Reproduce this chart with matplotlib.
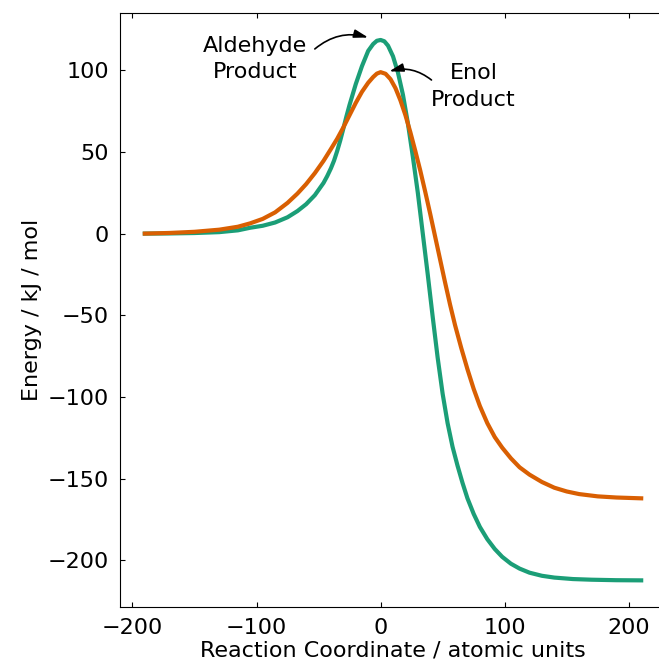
import numpy as np
import matplotlib
matplotlib.use('Agg')
import matplotlib.pyplot as plt

# reaction coordinate (atomic units) and energies (kJ/mol)
aldehyde_x = [-190, -170, -150, -130, -115, -105, -95, -85, -75, -67, -60, -53, -46,
              -43, -40, -37.5, -35, -32.5, -30, -27.5, -25, -20, -15, -10, -6, -3, 0,
              3, 6, 10, 14, 18, 22, 26, 30, 34, 38, 42, 46, 50, 54, 58, 62, 66, 70,
              75, 80, 86, 92, 98, 105, 112, 120, 130, 140, 155, 170, 190, 210]
aldehyde_e = [0, 0.1, 0.35, 0.9, 2, 3.6, 4.8, 6.8, 10, 13.8, 18, 23.5, 31,
              35.2, 40, 44.7, 50.5, 57, 64.3, 71.8, 78.8, 91.5, 102.5, 111.8, 116, 118, 118.5,
              117.7, 115, 108.5, 98.5, 85, 67.5, 47, 25, 0, -25, -51, -76, -98, -116, -130.5, -142, -152.5, -162,
              -171.5, -179.5, -187, -193, -197.8, -202, -205, -207.5, -209.4, -210.5, -211.4, -211.8, -212.1, -212.2]

enol_x = [-190, -170, -150, -130, -115, -105, -95, -85, -75, -67, -60, -53, -46,
          -40, -35, -30, -25, -20, -15, -10, -6, -3, 0, 4, 8, 12, 16, 20, 24,
          28, 32, 36, 40, 44, 48, 52, 56, 60, 65, 70, 75, 80, 86, 92, 98,
          105, 112, 120, 130, 140, 150, 160, 175, 190, 210]
enol_e = [0, 0.4, 1.1, 2.4, 4.2, 6.3, 9, 13, 18.8, 24.5, 30.3, 37, 44.5,
          51.8, 58, 65, 72.5, 80, 86.8, 92.3, 95.8, 97.9, 98.8, 97.8, 94.5, 89, 81.5, 72.5, 62,
          50.5, 38.5, 25.5, 12, -2, -16, -30, -43.5, -56, -70, -83, -95, -105.5, -116, -124.5, -131,
          -137.5, -143, -147.5, -152, -155.5, -157.8, -159.4, -160.8, -161.5, -162]

green = '#1b9e77'
orange = '#d95f02'

fig = plt.figure(figsize=(6.59, 6.60), dpi=100)
ax = fig.add_axes([120/659, 53/660, 546/659, 594/660])

ax.plot(aldehyde_x, aldehyde_e, color=green, lw=3, solid_joinstyle='round')
ax.plot(enol_x, enol_e, color=orange, lw=3, solid_joinstyle='round')

ax.set_xlim(-210, 230)
ax.set_ylim(-228.5, 135)
ax.set_xticks([-200, -100, 0, 100, 200])
ax.set_yticks([-200, -150, -100, -50, 0, 50, 100])
ax.tick_params(direction='in', top=True, right=False, labelsize=16, pad=8)
ax.spines['right'].set_visible(False)
ax.set_xlabel('Reaction Coordinate / atomic units', fontsize=16, labelpad=2)
ax.set_ylabel('Energy / kJ / mol', fontsize=16)

arrow = '-|>,head_length=0.6,head_width=0.18'
ax.text(-101, 107, 'Aldehyde\nProduct', ha='center', va='center',
        fontsize=16, linespacing=1.4)
ax.annotate('', xy=(-10, 120), xytext=(-53, 113),
            arrowprops=dict(arrowstyle=arrow, color='black', lw=1.2,
                            connectionstyle='arc3,rad=-0.26', mutation_scale=14,
                            shrinkA=0, shrinkB=0))
ax.text(75, 90, 'Enol\nProduct', ha='center', va='center',
        fontsize=16, linespacing=1.4)
ax.annotate('', xy=(7, 99.3), xytext=(41, 94),
            arrowprops=dict(arrowstyle=arrow, color='black', lw=1.2,
                            connectionstyle='arc3,rad=0.25', mutation_scale=14,
                            shrinkA=0, shrinkB=0))

fig.savefig('out.png', dpi=100)
